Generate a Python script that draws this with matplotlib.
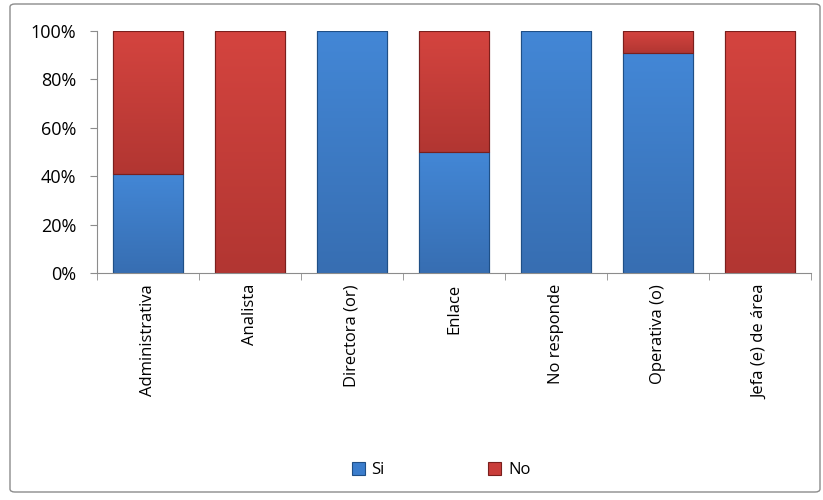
import matplotlib.pyplot as plt
import numpy as np
from matplotlib.patches import FancyBboxPatch
from matplotlib.colors import LinearSegmentedColormap

# Datos
categorias = ['Administrativa', 'Analista', 'Directora (or)', 'Enlace',
              'No responde', 'Operativa (o)', 'Jefa (e) de área']
si = [41, 0, 100, 50, 100, 91, 0]
no = [59, 100, 0, 50, 0, 9, 100]

plt.rcParams['font.family'] = ['Open Sans', 'DejaVu Sans']

fig = plt.figure(figsize=(8.23, 5), dpi=100)
ax = fig.add_axes([97 / 823, 1 - 273 / 500, (811 - 97) / 823, (273 - 31) / 500])

# Marco del gráfico
marco = FancyBboxPatch((10 / 823, 8 / 500), 810 / 823, 488 / 500,
                       boxstyle='round,pad=0,rounding_size=0.006',
                       transform=fig.transFigure, facecolor='none',
                       edgecolor='#8c8c8c', linewidth=1.0)
fig.patches.append(marco)

x = np.arange(len(categorias))
ancho = 0.68
barras_si = ax.bar(x, si, ancho, color='#3b7dcc', edgecolor='#1f4f86', linewidth=0.8, label='Si')
barras_no = ax.bar(x, no, ancho, bottom=si, color='#c93d3a', edgecolor='#7a1f1d', linewidth=0.8, label='No')

# Degradado vertical dentro de cada barra
grad_si = LinearSegmentedColormap.from_list('si', ['#376eb2', '#4387d6'])
grad_no = LinearSegmentedColormap.from_list('no', ['#b23632', '#d4443f'])
for barras, cmap in [(barras_si, grad_si), (barras_no, grad_no)]:
    for b in barras:
        if b.get_height() <= 0:
            continue
        x0, y0 = b.get_x(), b.get_y()
        img = ax.imshow(np.linspace(0, 1, 100).reshape(-1, 1), cmap=cmap,
                        origin='lower', aspect='auto',
                        extent=[x0, x0 + b.get_width(), y0, y0 + b.get_height()],
                        zorder=b.get_zorder() + 0.1)
        img.set_clip_path(b)
        borde = plt.Rectangle((x0, y0), b.get_width(), b.get_height(), fill=False,
                              edgecolor=b.get_edgecolor(), linewidth=0.8,
                              zorder=b.get_zorder() + 0.2)
        ax.add_patch(borde)

ax.set_xlim(-0.5, len(categorias) - 0.5)
ax.set_ylim(0, 100)
ax.set_yticks(range(0, 101, 20))
ax.set_yticklabels([f'{v}%' for v in range(0, 101, 20)], fontsize=13)
ax.set_xticks(x)
ax.set_xticklabels(categorias, rotation=90, fontsize=12)
ax.tick_params(axis='x', length=0, pad=8)
ax.set_xticks(np.arange(-0.5, len(categorias), 1), minor=True)
ax.tick_params(axis='x', which='minor', length=5, color='#8c8c8c', direction='out')
ax.tick_params(axis='y', length=5, color='#8c8c8c', direction='out', pad=10)

for lado in ['top', 'right']:
    ax.spines[lado].set_visible(False)
for lado in ['left', 'bottom']:
    ax.spines[lado].set_color('#8c8c8c')

fig.legend(handles=[barras_si, barras_no], labels=['Si', 'No'],
           loc='center', bbox_to_anchor=(441 / 823, 1 - 470 / 500), ncol=2,
           frameon=False, fontsize=12, handlelength=0.8, handleheight=0.8,
           columnspacing=6.2, handletextpad=0.4)

fig.savefig('out.png', dpi=100)
